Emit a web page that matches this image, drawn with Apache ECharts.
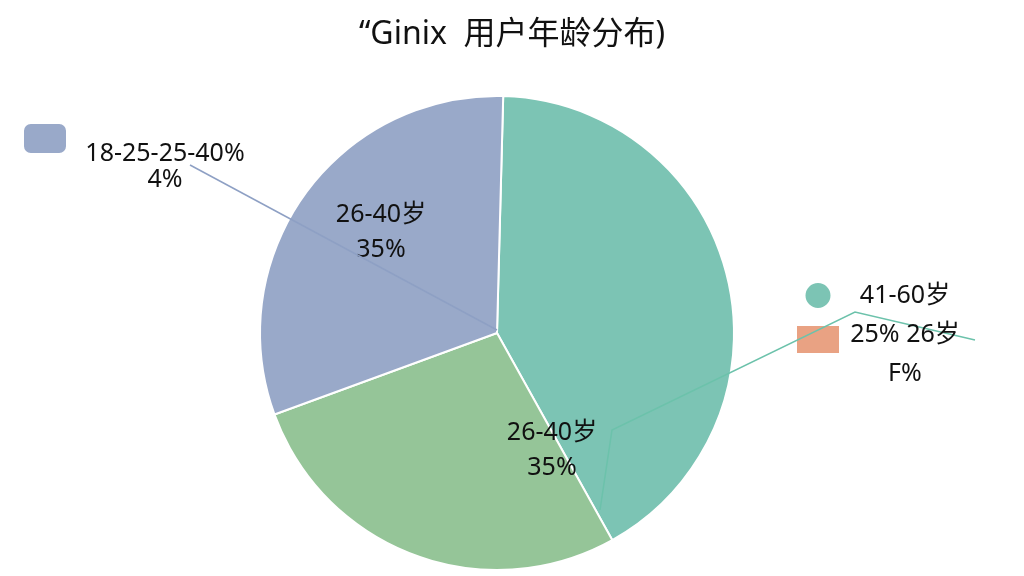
<!DOCTYPE html>
<html>
<head>
<meta charset="utf-8">
<style>html,body{margin:0;padding:0;background:#fff;}#main{width:1024px;height:576px;}</style>
<script src="https://cdn.jsdelivr.net/npm/echarts@6/dist/echarts.min.js"></script>
</head>
<body>
<div id="main"></div>
<script>
const titleText = '“Ginix  用户年龄分布)';
const categories = ['41-60岁', '26-40岁', '18-25岁', '60岁以上'];
const values = [41.5, 27.5, 31, 0];
const insideLabels = ['', '26-40岁\n35%', '26-40岁\n35%', ''];
const outsideLabels = ['41-60岁\n25% 26岁\nF%', '', '18-25-25-40%\n4%', ''];

const colors = ['#7cc4b4', '#95c598', '#99a9c9', '#e9a283'];
const lineColors = ['#6cc2ab', '#95c598', '#8ea0c4', '#e9a283'];
const CENTER = [497, 333];
const insidePos = [null, [552, 450], [381, 232], null];
const outsidePos = [[905, 335], null, [165, 167], null];
// guide line bends, as offsets from the pie centre
const guideOffsets = [
  [[103, 177], [115, 97], [358, -21], [478, 7]],
  null,
  [[0, -3], [-307, -168]],
  null
];
const FONT = '"Noto Sans", "Noto Sans CJK SC", sans-serif';

const chart = echarts.init(document.getElementById('main'));

const mainData = categories.map((name, i) => ({
  name: name,
  value: values[i],
  itemStyle: { color: colors[i], borderWidth: values[i] > 0 ? 2 : 0 },
  label: { show: insideLabels[i] !== '' }
}));
const overlayData = categories.map((name, i) => ({
  name: name,
  value: values[i],
  label: { show: outsideLabels[i] !== '', lineHeight: i === 0 ? 39 : 26 },
  labelLine: { show: outsideLabels[i] !== '', lineStyle: { color: lineColors[i], width: 1.5 } }
}));

chart.setOption({
  animation: false,
  title: {
    text: titleText,
    left: 'center',
    top: 14,
    textStyle: { fontFamily: FONT, fontSize: 32, fontWeight: 'normal', color: '#111' }
  },
  legend: [
    {
      data: [{ name: categories[2], icon: 'roundRect', itemStyle: { color: colors[2] } }],
      left: 17, top: 117, itemWidth: 44, itemHeight: 31,
      selectedMode: false, formatter: () => ''
    },
    {
      data: [
        { name: categories[0], icon: 'circle', itemStyle: { color: colors[0] } },
        { name: categories[3], icon: 'rect', itemStyle: { color: colors[3] } }
      ],
      orient: 'vertical', left: 792, top: 276, itemWidth: 42, itemHeight: 27, itemGap: 16,
      selectedMode: false, formatter: () => ''
    }
  ],
  series: [
    {
      type: 'pie',
      center: CENTER,
      radius: [0, 237],
      startAngle: 88.5,
      clockwise: true,
      avoidLabelOverlap: false,
      itemStyle: { borderColor: '#ffffff' },
      label: {
        position: 'inside',
        formatter: p => insideLabels[p.dataIndex],
        fontFamily: FONT, fontSize: 25, lineHeight: 35, color: '#111'
      },
      labelLine: { show: false },
      labelLayout: p => {
        const pos = insidePos[p.dataIndex];
        return pos ? { x: pos[0], y: pos[1], align: 'center', verticalAlign: 'middle' } : {};
      },
      emphasis: { disabled: true },
      data: mainData
    },
    {
      type: 'pie',
      center: CENTER,
      radius: [0, 237],
      startAngle: 88.5,
      clockwise: true,
      silent: true,
      z: 5,
      avoidLabelOverlap: false,
      itemStyle: { color: 'rgba(0,0,0,0)', borderWidth: 0 },
      label: {
        position: 'outside',
        formatter: p => outsideLabels[p.dataIndex],
        fontFamily: FONT, fontSize: 25, color: '#111', align: 'center'
      },
      labelLine: { length: 30, length2: 40 },
      labelLayout: p => {
        const pos = outsidePos[p.dataIndex];
        if (!pos) return {};
        const g = guideOffsets[p.dataIndex];
        const res = { x: pos[0], y: pos[1], align: 'center', verticalAlign: 'middle' };
        if (g) res.labelLinePoints = g.map(o => [CENTER[0] + o[0], CENTER[1] + o[1]]);
        return res;
      },
      emphasis: { disabled: true },
      data: overlayData
    }
  ]
});
</script>
</body>
</html>
